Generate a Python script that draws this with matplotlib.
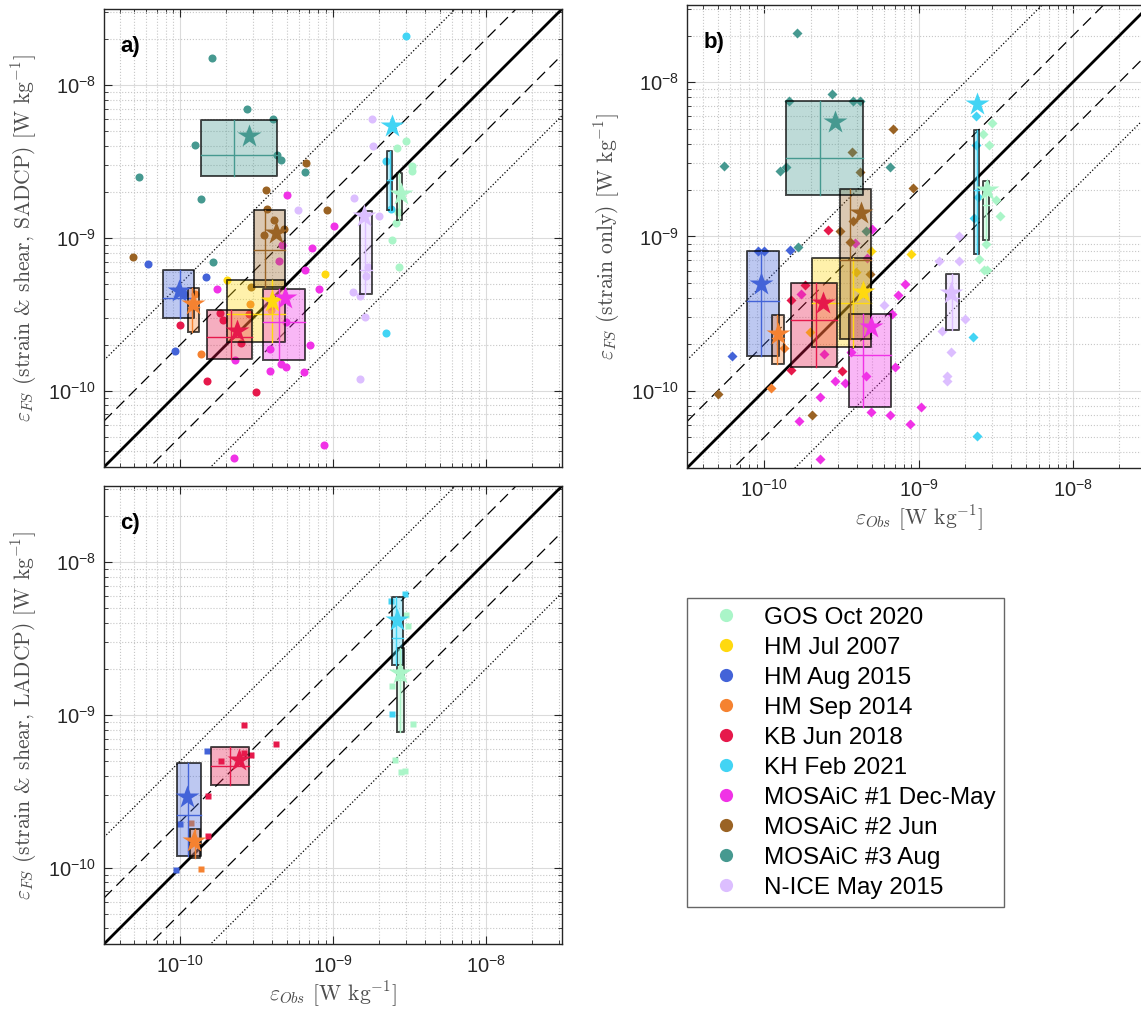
import numpy as np
import matplotlib
matplotlib.use('Agg')
from matplotlib import pyplot as plt
from matplotlib.lines import Line2D
from matplotlib.ticker import LogLocator, NullFormatter

names = ['GOS Oct 2020', 'HM Jul 2007', 'HM Aug 2015', 'HM Sep 2014', 'KB Jun 2018',
         'KH Feb 2021', 'MOSAiC #1 Dec-May', 'MOSAiC #2 Jun', 'MOSAiC #3 Aug', 'N-ICE May 2015']
colors = ['#aaf5c8', '#ffd90f', '#4363d8', '#f58231', '#e6194b',
          '#42d4f4', '#f032e6', '#9a6324', '#469990', '#dcbeff']
ticks = [1e-10, 1e-9, 1e-8]

# ---- panel a: strain & shear, SADCP ----
# boxes: [x25, x75, y25, y75]
a_box = [[2.61e-9, 2.84e-9, 1.31e-9, 2.67e-9],
         [2.03e-10, 4.86e-10, 2.09e-10, 5.28e-10],
         [7.7e-11, 1.23e-10, 2.99e-10, 6.15e-10],
         [1.13e-10, 1.33e-10, 2.43e-10, 4.67e-10],
         [1.50e-10, 2.93e-10, 1.61e-10, 3.37e-10],
         [2.25e-9, 2.44e-9, 1.52e-9, 3.74e-9],
         [3.49e-10, 6.58e-10, 1.60e-10, 4.62e-10],
         [3.06e-10, 4.86e-10, 4.81e-10, 1.52e-9],
         [1.36e-10, 4.3e-10, 2.54e-9, 5.97e-9],
         [1.51e-9, 1.81e-9, 4.28e-10, 1.50e-9]]
a_med = [[2.72e-9, 1.95e-9], [4.0e-10, 3.2e-10], [1.0e-10, 4.07e-10], [1.2e-10, 3.51e-10],
         [2.15e-10, 2.26e-10], [2.35e-9, 2.4e-9], [4.42e-10, 2.8e-10], [3.61e-10, 8.36e-10],
         [2.25e-10, 3.48e-9], [1.62e-9, 6.2e-10]]
a_mean = [[2.8e-9, 1.93e-9], [3.96e-10, 3.87e-10], [9.84e-11, 4.51e-10], [1.21e-10, 3.68e-10],
          [2.36e-10, 2.47e-10], [2.43e-9, 5.45e-9], [4.88e-10, 4.07e-10], [4.23e-10, 1.08e-9],
          [2.83e-10, 4.64e-9], [1.6e-9, 1.39e-9]]
a_x = [[2.99e-9, 2.61e-9, 3.27e-9, 3.3e-9, 2.68e-9, 2.44e-9, 2.71e-9, 2.6e-9],
       [2.03e-10, 8.89e-10, 3.9e-10],
       [6.15e-11, 1.47e-10, 9.16e-11, 1.05e-10],
       [1.36e-10, 2.86e-10, 1.25e-10, 3.9e-10],
       [1.0e-10, 1.49e-10, 3.14e-10, 1.82e-10, 2.5e-10, 1.9e-10, 2.8e-10],
       [2.99e-9, 2.21e-9, 2.39e-9, 2.21e-9],
       [4.98e-10, 1.01e-9, 7.31e-10, 4.62e-10, 4.44e-10, 6.58e-10, 8.1e-10, 1.73e-10, 2.27e-10,
        3.85e-10, 3.87e-10, 4.9e-10, 6.41e-10, 7.03e-10, 8.75e-10, 2.26e-10, 4.54e-10, 4.93e-10],
       [4.92e-11, 6.7e-10, 3.65e-10, 3.71e-10, 9.14e-10, 4.12e-10, 4.77e-10, 3.53e-10, 2.89e-10],
       [1.61e-10, 2.73e-10, 1.24e-10, 4.07e-10, 4.3e-10, 4.54e-10, 6.55e-10, 5.4e-11, 1.36e-10, 1.64e-10],
       [1.79e-9, 1.82e-9, 1.38e-9, 5.87e-10, 1.99e-9, 1.64e-9, 1.35e-9, 1.51e-9, 1.62e-9, 1.51e-9, 1.7e-9]]
a_y = [[4.3e-9, 3.9e-9, 2.96e-9, 2.75e-9, 1.47e-9, 9.66e-10, 6.46e-10, 1.25e-9],
       [5.28e-10, 5.85e-10, 3.4e-10],
       [6.73e-10, 5.58e-10, 1.82e-10, 4.3e-10],
       [1.74e-10, 3.68e-10, 4.3e-10, 3.6e-10],
       [2.7e-10, 1.15e-10, 9.75e-11, 3.25e-10, 2.05e-10, 2.9e-10, 3.2e-10],
       [2.09e-8, 3.19e-9, 1.54e-9, 2.37e-10],
       [1.90e-9, 1.20e-9, 8.64e-10, 8.96e-10, 7.07e-10, 6.18e-10, 4.62e-10, 4.62e-10, 1.60e-10,
        1.87e-10, 1.35e-10, 1.42e-10, 1.33e-10, 1.99e-10, 4.41e-11, 3.63e-11, 1.49e-10, 2.8e-10],
       [7.51e-10, 3.09e-9, 2.07e-9, 1.56e-9, 1.53e-9, 1.32e-9, 1.15e-9, 1.04e-9, 4.77e-10],
       [1.51e-8, 7.04e-9, 4.04e-9, 6.05e-9, 3.52e-9, 3.22e-9, 2.70e-9, 2.52e-9, 1.81e-9, 6.97e-10],
       [6.02e-9, 3.99e-9, 1.84e-9, 1.52e-9, 1.39e-9, 5.65e-10, 4.4e-10, 4.18e-10, 3.05e-10, 1.19e-10, 6.5e-10]]

# ---- panel b: strain only ----
b_box = [[2.61e-9, 2.87e-9, 9.5e-10, 2.28e-9],
         [2.05e-10, 4.89e-10, 1.93e-10, 7.26e-10],
         [7.73e-11, 1.245e-10, 1.68e-10, 8.09e-10],
         [1.13e-10, 1.34e-10, 1.50e-10, 3.09e-10],
         [1.49e-10, 2.97e-10, 1.43e-10, 5.01e-10],
         [2.28e-9, 2.47e-9, 7.66e-10, 4.92e-9],
         [3.52e-10, 6.61e-10, 7.85e-11, 3.16e-10],
         [3.09e-10, 4.89e-10, 2.18e-10, 2.03e-9],
         [1.39e-10, 4.39e-10, 1.86e-9, 7.56e-9],
         [1.51e-9, 1.83e-9, 2.49e-10, 5.7e-10]]
b_med = [[2.75e-9, 1.6e-9], [3.78e-10, 3.73e-10], [9.6e-11, 3.81e-10], [1.22e-10, 2.2e-10],
         [2.16e-10, 2.88e-10], [2.38e-9, 2.0e-9], [4.39e-10, 1.70e-10], [3.58e-10, 7.0e-10],
         [2.29e-10, 3.24e-9], [1.65e-9, 4.0e-10]]
b_mean = [[2.79e-9, 2.0e-9], [4.39e-10, 4.39e-10], [9.6e-11, 4.93e-10], [1.23e-10, 2.32e-10],
          [2.4e-10, 3.73e-10], [2.41e-9, 7.17e-9], [4.89e-10, 2.59e-10], [4.27e-10, 1.42e-9],
          [2.88e-10, 5.48e-9], [1.63e-9, 4.31e-10]]
b_x = [[3.0e-9, 2.61e-9, 2.87e-9, 3.2e-9, 3.38e-9, 2.72e-9, 2.47e-9, 2.64e-9, 2.79e-9],
       [8.94e-10, 4.89e-10, 3.91e-10, 1.99e-10],
       [9.1e-11, 1.0e-10, 1.48e-10, 6.21e-11],
       [1.1e-10, 1.35e-10],
       [2.61e-10, 1.84e-10, 1.5e-10, 1.5e-10, 3.21e-10],
       [2.37e-9, 2.37e-9, 2.43e-9, 2.28e-9, 2.24e-9, 2.39e-9],
       [5.03e-10, 3.89e-10, 4.66e-10, 8.14e-10, 7.38e-10, 6.72e-10, 3.68e-10, 4.58e-10, 7.03e-10, 2.88e-10,
        3.35e-10, 2.29e-10, 1.67e-10, 4.9e-10, 6.54e-10, 8.84e-10, 1.04e-9, 2.29e-10, 1.74e-10, 2.44e-10],
       [6.8e-10, 3.7e-10, 4.15e-10, 9.24e-10, 3.78e-10, 3.12e-10, 3.58e-10, 4.84e-10, 2.04e-10, 4.99e-11],
       [1.62e-10, 2.75e-10, 1.44e-10, 3.74e-10, 4.17e-10, 5.47e-11, 1.27e-10, 1.39e-10, 6.58e-10, 4.59e-10, 1.65e-10],
       [1.83e-9, 1.36e-9, 1.83e-9, 5.96e-10, 1.41e-9, 1.99e-9, 1.63e-9, 1.53e-9, 1.53e-9]]
b_y = [[5.4e-9, 4.59e-9, 3.91e-9, 1.72e-9, 1.36e-9, 8.91e-10, 7.19e-10, 6.11e-10, 6.11e-10],
       [7.74e-10, 8.09e-10, 5.86e-10, 2.39e-10],
       [8.09e-10, 8.09e-10, 8.18e-10, 1.68e-10],
       [1.05e-10, 1.9e-10],
       [1.10e-9, 4.88e-10, 3.87e-10, 1.36e-10, 1.34e-10],
       [6.0e-9, 3.91e-9, 1.79e-9, 1.32e-9, 2.24e-10, 5.11e-11],
       [1.12e-9, 9.02e-10, 7.3e-10, 4.93e-10, 4.2e-10, 3.13e-10, 1.78e-10, 1.24e-10, 1.43e-10, 1.16e-10,
        1.12e-10, 9.18e-11, 6.4e-11, 7.32e-11, 7.02e-11, 6.07e-11, 7.85e-11, 3.64e-11, 4.25e-10, 1.73e-10],
       [4.98e-9, 3.51e-9, 2.61e-9, 2.05e-9, 1.26e-9, 1.09e-9, 9.25e-10, 5.73e-10, 7.02e-11, 9.53e-11],
       [2.09e-8, 8.42e-9, 7.56e-9, 7.56e-9, 7.56e-9, 2.88e-9, 2.64e-9, 2.83e-9, 2.83e-9, 1.08e-9, 8.54e-10],
       [1.0e-9, 6.89e-10, 6.89e-10, 3.61e-10, 2.45e-10, 2.91e-10, 1.79e-10, 1.25e-10, 1.15e-10]]

# ---- panel c: strain & shear, LADCP (only 5 cruises) ----
c_box = [[2.62e-9, 2.92e-9, 7.78e-10, 2.73e-9], None,
         [9.52e-11, 1.37e-10, 1.19e-10, 4.84e-10],
         [1.15e-10, 1.35e-10, 1.15e-10, 1.80e-10],
         [1.6e-10, 2.81e-10, 3.48e-10, 6.18e-10],
         [2.42e-9, 2.86e-9, 2.12e-9, 5.92e-9], None, None, None, None]
c_med = [[2.75e-9, 1.7e-9], None, [1.13e-10, 2.2e-10], [1.24e-10, 1.45e-10],
         [2.11e-10, 4.6e-10], [2.6e-9, 3.18e-9], None, None, None, None]
c_mean = [[2.74e-9, 1.87e-9], None, [1.11e-10, 2.91e-10], [1.22e-10, 1.50e-10],
          [2.43e-10, 5.09e-10], [2.62e-9, 4.21e-9], None, None, None, None]
c_x = [[3.02e-9, 3.08e-9, 2.44e-9, 3.35e-9, 2.55e-9, 2.77e-9, 2.97e-9], None,
       [9.32e-11, 1.49e-10, 1.0e-10],
       [1.37e-10, 1.18e-10],
       [2.61e-10, 4.23e-10, 1.86e-10, 2.89e-10, 1.51e-10, 1.51e-10, 2.6e-10],
       [2.97e-9, 2.39e-9, 2.44e-9], None, None, None, None]
c_y = [[4.54e-9, 3.8e-9, 1.55e-9, 8.69e-10, 5.09e-10, 4.22e-10, 4.27e-10], None,
       [9.66e-11, 5.85e-10, 1.92e-10],
       [9.75e-11, 1.95e-10],
       [8.61e-10, 6.41e-10, 4.97e-10, 5.5e-10, 2.94e-10, 1.61e-10, 5.6e-10],
       [6.17e-9, 5.57e-9, 1.01e-9], None, None, None, None]

lims = [10 ** -10.5, 10 ** -7.5]
W, H = 1141, 1010

plt.rcParams['font.family'] = ['Liberation Sans', 'DejaVu Sans']
plt.rcParams['mathtext.fontset'] = 'cm'
plt.rcParams['axes.edgecolor'] = '#262626'
plt.rcParams['xtick.color'] = '#262626'
plt.rcParams['ytick.color'] = '#262626'

fig = plt.figure(figsize=(W / 100, H / 100), dpi=100)


def px_axes(left, top, w, h):
    return fig.add_axes([left / W, 1 - (top + h) / H, w / W, h / H])


def draw_panel(ax, box, med, mean, xs, ys, marker, ms, tag, ylabel, xlabel=None):
    ax.set_xscale('log')
    ax.set_yscale('log')
    ax.set_xlim(lims)
    ax.set_ylim(lims)
    for axis in (ax.xaxis, ax.yaxis):
        axis.set_ticks(ticks)
        axis.set_minor_locator(LogLocator(base=10, subs=np.arange(2, 10)))
        axis.set_minor_formatter(NullFormatter())
    ax.grid(True, which='major', color='0.86', lw=0.8, zorder=0)
    ax.grid(True, which='minor', color='0.78', ls=':', lw=0.8, zorder=0)
    ax.set_axisbelow(True)

    # 1:1, factor 2 and factor 5 lines
    xl = np.array(lims)
    ax.plot(xl, xl, color='k', lw=2.0, zorder=2)
    for f in [2, 0.5]:
        ax.plot(xl, xl * f, color='k', lw=0.9, dashes=(9, 5), zorder=2)
    for f in [5, 0.2]:
        ax.plot(xl, xl * f, color='k', lw=0.9, ls=':', zorder=2)

    for i in range(len(names)):
        if xs[i] is None:
            continue
        ax.plot(xs[i], ys[i], ls='none', marker=marker, ms=ms, color=colors[i],
                mec='none', zorder=3)
    for i in range(len(names)):
        if box[i] is None:
            continue
        x0, x1, y0, y1 = box[i]
        ax.fill([x0, x1, x1, x0], [y0, y0, y1, y1], facecolor=colors[i], alpha=0.35,
                edgecolor='none', zorder=4)
        ax.plot([x0, x1, x1, x0, x0], [y0, y0, y1, y1, y0], color='k', alpha=0.7,
                lw=1.4, zorder=5)
        ax.plot([med[i][0], med[i][0]], [y0, y1], color=colors[i], lw=1.0, zorder=5)
        ax.plot([x0, x1], [med[i][1], med[i][1]], color=colors[i], lw=1.0, zorder=5)
    for i in range(len(names)):
        if mean[i] is None:
            continue
        ax.plot(mean[i][0], mean[i][1], ls='none', marker='*', ms=17.5, color=colors[i],
                mec='none', zorder=6)

    ax.tick_params(which='both', direction='in', top=True, right=True, labelsize=14.5)
    ax.tick_params(axis='x', pad=8)
    ax.tick_params(axis='y', pad=6)
    ax.tick_params(which='major', length=6, width=0.8)
    ax.tick_params(which='minor', length=3, width=0.6)
    for s in ax.spines.values():
        s.set_linewidth(1.0)
    ax.text(0.035, 0.918, tag, transform=ax.transAxes, fontsize=16, fontweight='bold',
            va='center', ha='left')
    ax.set_ylabel(ylabel, fontsize=15.5, color='0.3', labelpad=6, family='cmr10')
    if xlabel is None:
        ax.tick_params(labelbottom=False)
    else:
        ax.set_xlabel(xlabel, fontsize=15.5, color='0.3', labelpad=2, family='cmr10')


ax_a = px_axes(104, 9, 458, 458)
draw_panel(ax_a, a_box, a_med, a_mean, a_x, a_y, 'o', 5.8, 'a)',
           r'$\varepsilon_{FS}$ (strain & shear, SADCP) [W kg$^{-1}$]')

ax_b = px_axes(687, 5, 463, 463)
draw_panel(ax_b, b_box, b_med, b_mean, b_x, b_y, 'D', 4.7, 'b)',
           r'$\varepsilon_{FS}$ (strain only) [W kg$^{-1}$]',
           r'$\varepsilon_{Obs}$ [W kg$^{-1}$]')

ax_c = px_axes(104, 486, 458, 458)
draw_panel(ax_c, c_box, c_med, c_mean, c_x, c_y, 's', 3.8, 'c)',
           r'$\varepsilon_{FS}$ (strain & shear, LADCP) [W kg$^{-1}$]',
           r'$\varepsilon_{Obs}$ [W kg$^{-1}$]')

handles = [Line2D([], [], ls='none', marker='o', ms=9.5, color=c, mec='none') for c in colors]
leg = fig.legend(handles, names, loc='upper left', bbox_to_anchor=(687 / W, 1 - 598 / H),
                 fontsize=17.5, frameon=True, fancybox=False, edgecolor='#404040',
                 handlelength=2.5, handletextpad=0.3, labelspacing=0.33, borderpad=0.35,
                 borderaxespad=0)
leg.get_frame().set_linewidth(1.0)

fig.savefig('out.png', dpi=100)
